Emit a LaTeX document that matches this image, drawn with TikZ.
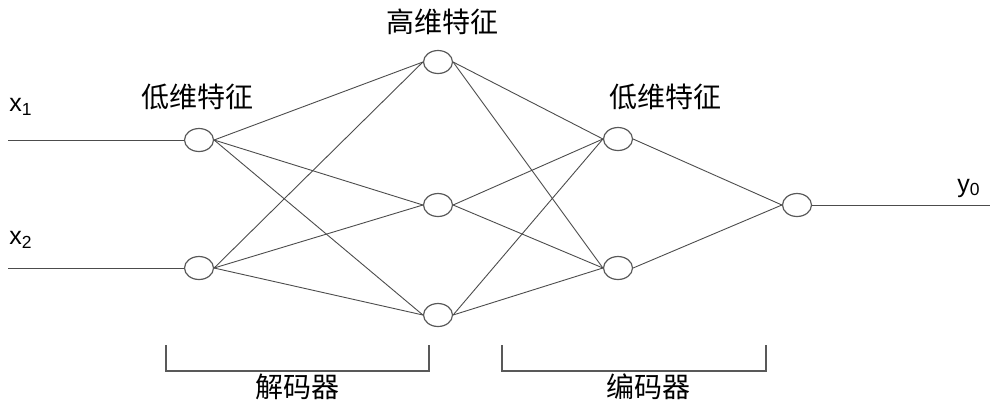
\documentclass[tikz,border=0pt]{standalone}
\usepackage{fontspec}
\newfontfamily\cjk{Noto Sans CJK SC}
\newfontfamily\lat{Liberation Sans}
\usetikzlibrary{shapes.geometric}
\tikzstyle{neuron}=[draw=gray!70!black,ellipse,minimum width=14.5pt,minimum height=11.5pt,inner sep=0pt,line width=0.6pt]
\tikzstyle{link}=[draw=gray!60!black,line width=0.45pt]
\tikzstyle{brace}=[draw=gray!70!black,line width=0.9pt]
\tikzstyle{caption}=[font=\cjk\fontsize{14}{16}\selectfont,inner sep=0pt]
\tikzstyle{signal}=[font=\lat\fontsize{12.5}{14}\selectfont,inner sep=0pt]

\begin{document}
\begin{tikzpicture}[x=0.5pt,y=-0.5pt]
    \useasboundingbox (0,0) rectangle (1000,414);
    % layers
    \node [neuron] (low1) at (199,140) {};
    \node [neuron] (low2) at (199,268) {};
    \node [neuron] (high1) at (438,62) {};
    \node [neuron] (high2) at (438,205) {};
    \node [neuron] (high3) at (438,315) {};
    \node [neuron] (code1) at (618,139) {};
    \node [neuron] (code2) at (618,268) {};
    \node [neuron] (out) at (797,205) {};
    % free ends
    \coordinate (in1) at (8,140);
    \coordinate (in2) at (8,268);
    \coordinate (outend) at (990,205);
    % labels
    \node [signal] (xa) at (21,107) {x\textsubscript{1}};
    \node [signal] (xb) at (21,240) {x\textsubscript{2}};
    \node [signal] (yo) at (969,188) {y\textsubscript{0}};
    \node [caption] (lowtitle) at (197,97) {低维特征};
    \node [caption] (hightitle) at (442,22) {高维特征};
    \node [caption] (codetitle) at (665,97) {低维特征};
    \node [caption] (dectitle) at (297,387) {解码器};
    \node [caption] (enctitle) at (648,387) {编码器};
    % connections
    \draw [link] (in1) -- (low1.west);
    \draw [link] (in2) -- (low2.west);
    \draw [link] (low1.east) -- (high1.west);
    \draw [link] (low1.east) -- (high2.west);
    \draw [link] (low1.east) -- (high3.west);
    \draw [link] (low2.east) -- (high1.west);
    \draw [link] (low2.east) -- (high2.west);
    \draw [link] (low2.east) -- (high3.west);
    \draw [link] (high1.east) -- (code1.west);
    \draw [link] (high1.east) -- (code2.west);
    \draw [link] (high2.east) -- (code1.west);
    \draw [link] (high2.east) -- (code2.west);
    \draw [link] (high3.east) -- (code1.west);
    \draw [link] (high3.east) -- (code2.west);
    \draw [link] (code1.east) -- (out.west);
    \draw [link] (code2.east) -- (out.west);
    \draw [link] (out.east) -- (outend);
    % brackets
    \draw [brace] (166,345) -- (166,371) -- (429,371) -- (429,345);
    \draw [brace] (502,345) -- (502,371) -- (766,371) -- (766,345);
\end{tikzpicture}
\end{document}
